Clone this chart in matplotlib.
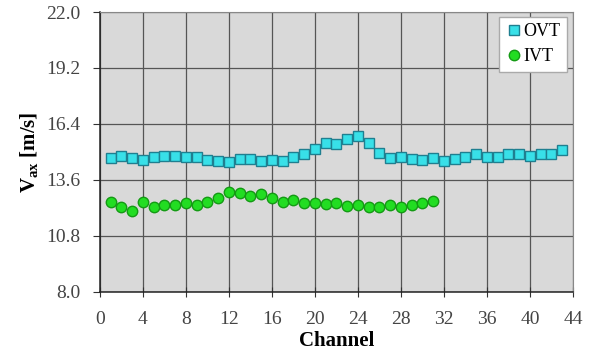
import matplotlib.pyplot as plt
import numpy as np

plt.rcParams['font.family'] = ['Liberation Serif', 'DejaVu Serif']
plt.rcParams['mathtext.fontset'] = 'custom'
plt.rcParams['mathtext.rm'] = 'Liberation Serif'
plt.rcParams['mathtext.bf'] = 'Liberation Serif:bold'

# channels and axial velocities [m/s]
ovt_channel = list(range(1, 44))
ovt_vax = [14.68, 14.82, 14.68, 14.60, 14.77, 14.82, 14.80, 14.73, 14.75, 14.60,
           14.57, 14.50, 14.63, 14.63, 14.55, 14.62, 14.57, 14.73, 14.90, 15.15,
           15.43, 15.42, 15.63, 15.80, 15.43, 14.97, 14.68, 14.77, 14.63, 14.58,
           14.70, 14.57, 14.63, 14.77, 14.92, 14.77, 14.77, 14.90, 14.90, 14.80,
           14.88, 14.88, 15.10]

ivt_channel = list(range(1, 32))
ivt_vax = [12.52, 12.27, 12.07, 12.52, 12.27, 12.33, 12.35, 12.47, 12.37, 12.52,
           12.68, 12.98, 12.95, 12.82, 12.90, 12.68, 12.52, 12.58, 12.45, 12.45,
           12.38, 12.43, 12.28, 12.37, 12.27, 12.27, 12.33, 12.25, 12.35, 12.43,
           12.55]

xticks = np.arange(0, 45, 4)
yticks = [8.0, 10.8, 13.6, 16.4, 19.2, 22.0]

fig = plt.figure(figsize=(5.95, 3.53), dpi=100)
ax = fig.add_axes([0.168, 0.173, 0.795, 0.793])
ax.set_facecolor('#d9d9d9')

ax.plot(ovt_channel, ovt_vax, 's', color='#38e0e8', markeredgecolor='#1f7f90',
        markersize=7, markeredgewidth=1.0, label='OVT', zorder=3)
ax.plot(ivt_channel, ivt_vax, 'o', color='#22dd22', markeredgecolor='#149a14',
        markersize=7.5, markeredgewidth=1.0, label='IVT', zorder=3)

ax.set_xlim(0, 44)
ax.set_ylim(8.0, 22.0)
ax.set_xticks(xticks)
ax.set_yticks(yticks)
ax.set_yticklabels([f"{v:.1f}" for v in yticks])
ax.grid(True, color='#555555', linewidth=0.9)
ax.set_axisbelow(True)

for s in ['top', 'right']:
    ax.spines[s].set_color('#888888')
    ax.spines[s].set_linewidth(0.8)
for s in ['left', 'bottom']:
    ax.spines[s].set_color('#222222')
    ax.spines[s].set_linewidth(1.1)

ax.tick_params(axis='x', direction='inout', length=7, labelsize=14, color='#333333', pad=10)
ax.tick_params(axis='y', direction='out', length=5, labelsize=14, color='#333333', pad=9)
for lab in ax.get_xticklabels() + ax.get_yticklabels():
    lab.set_color('#444444')

ax.set_xlabel('Channel', fontsize=15, fontweight='bold', va='center')
ax.xaxis.set_label_coords(0.5, -0.175)
ax.set_ylabel(r'V$_{\mathbf{ax}}$ [m/s]', fontsize=15, fontweight='bold', labelpad=4)

leg = ax.legend(loc='upper right', fontsize=13, handletextpad=0.0, handlelength=1.0,
                borderpad=0.35, labelspacing=0.45, fancybox=False, framealpha=1,
                edgecolor='#aaaaaa', bbox_to_anchor=(0.987, 0.982), borderaxespad=0)

plt.savefig('out.png', dpi=100)
